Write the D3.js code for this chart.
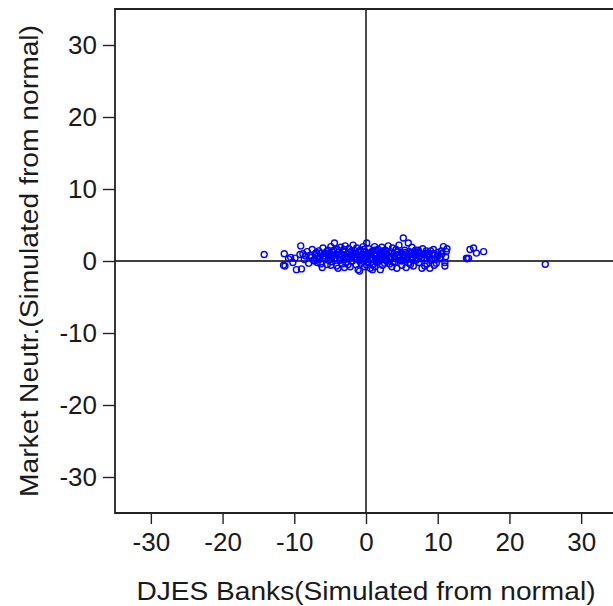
<!DOCTYPE html>
<html><head><meta charset="utf-8">
<script src="https://cdn.jsdelivr.net/npm/d3@7"></script>
<style>html,body{margin:0;padding:0;background:#fff;overflow:hidden}</style>
</head><body><svg id="c" width="613" height="606"></svg>
<script>
const xLabel = "DJES Banks(Simulated from normal)";
const yLabel = "Market Neutr.(Simulated from normal)";
const tickValues = [-30, -20, -10, 0, 10, 20, 30];
const xValues = [
-14.2,-11.4,-11.3,-9.9,-9.7,-9.0,-9.1,-9.2,-8.6,-8.2,-8.0,-7.8,-7.5,-7.3,-7.0,-6.8,-6.6,-6.4,-6.1,-6.0,
-5.8,-5.6,-5.4,-5.3,-5.1,-4.9,-4.8,-4.6,-4.4,-4.3,-4.1,-4.0,-3.9,-3.8,-3.6,-3.5,-3.3,-3.2,-3.0,-2.9,
-2.8,-2.6,-2.5,-2.4,-2.2,-2.1,-2.0,-1.9,-1.8,-1.6,-1.5,-1.4,-1.3,-1.1,-1.0,-0.9,-0.8,-0.7,-0.5,-0.4,
-0.3,-0.2,-0.1,0.1,0.2,0.3,0.4,0.6,0.7,0.8,0.9,1.0,1.2,1.3,1.4,1.5,1.7,1.8,2.0,2.1,
2.2,2.3,2.5,2.6,2.7,2.9,3.0,3.1,3.3,3.4,3.5,3.7,3.8,3.9,4.1,4.2,4.3,4.5,4.6,4.8,
4.9,5.0,5.2,5.3,5.4,5.6,5.7,5.9,6.0,6.1,6.3,6.4,6.6,6.7,6.9,7.0,7.2,7.4,7.5,7.8,
7.9,8.1,8.3,8.5,8.7,8.9,9.0,9.2,9.4,9.6,9.8,10.0,10.3,10.6,10.8,11.0,11.0,11.2,11.1,11.3,
14.0,14.1,14.3,14.5,15.0,15.4,16.4,25.0,
-7.6,-7.1,-6.9,-6.5,-6.2,-5.9,-5.5,-5.2,-5.0,-4.7,-4.5,-4.2,-3.9,-3.7,-3.4,-3.1,-2.7,-2.3,-2.0,-1.7,
-1.2,-1.0,-0.6,-0.3,0.0,0.3,0.5,0.8,1.1,1.3,1.6,1.9,2.2,2.4,2.8,3.2,3.6,4.0,4.4,4.7,
5.1,5.5,5.8,6.2,6.5,6.8,7.1,7.3,7.7,8.0,8.4,8.8,9.3,9.7,10.1,10.5,-8.4,-8.8,-10.5,-10.2,
-10.8,-6.3,-4.9,-2.5,0.1,1.2,2.6,3.6,5.6,6.2,8.2,9.5,-3.0,0.9,-0.9,-11.5,
-6.7,-5.7,-4.4,-3.5,-2.6,-1.5,-0.7,0.4,1.5,2.5,3.4,4.3,5.2,6.0,6.9,7.8,8.6,9.9,
-7.2,-6.0,-4.8,-3.2,-2.1,-0.9,0.6,1.8,2.9,4.0,5.0,6.4,7.5,8.9,10.4,-5.3,-1.4,2.0,4.6,7.0
];
const yValues = [
0.9,1.0,-0.7,0.4,-1.2,-1.1,2.1,0.9,0.2,1.3,-0.3,0.8,1.6,0.1,1.1,-0.2,1.4,0.6,-0.9,1.8,
0.3,1.0,-0.5,1.5,0.7,2.0,-0.1,1.2,2.5,0.4,-0.7,1.6,-1.0,0.9,0.1,1.9,-0.4,1.3,0.6,2.1,
-0.2,1.0,0.3,1.7,-0.8,0.8,1.4,0.0,2.2,0.5,1.1,-0.5,1.8,-1.2,0.7,0.2,1.5,-0.3,1.0,2.0,
0.4,-0.8,1.3,2.5,0.6,-0.1,1.7,-1.0,0.9,0.2,1.4,-0.5,2.0,0.7,1.1,-0.2,1.6,0.3,-1.2,0.9,
1.9,-0.6,1.2,0.5,1.5,0.0,0.8,2.1,-0.4,1.3,0.6,1.8,-0.1,1.0,0.3,1.6,-1.0,0.8,2.2,0.1,
1.2,-0.6,3.2,0.7,1.5,0.2,1.0,2.5,-0.3,1.3,0.6,1.9,-0.7,0.9,1.5,0.1,1.2,-0.2,0.7,-1.0,
1.7,0.4,1.1,-0.4,0.8,-1.0,1.4,0.3,1.6,0.9,-0.3,1.2,0.5,1.0,2.0,-0.2,-0.7,1.3,0.6,1.7,
0.4,0.3,0.4,1.6,1.8,1.1,1.3,-0.45,
0.5,0.9,1.2,0.2,1.1,0.7,1.3,0.1,1.1,0.6,1.5,0.9,1.2,0.5,0.8,1.6,0.4,1.2,0.6,0.9,
0.3,1.3,0.8,1.6,0.5,1.1,0.3,1.2,0.8,1.5,0.4,1.1,0.7,1.4,0.9,0.4,1.1,0.7,1.3,0.5,
0.9,1.2,0.6,1.0,0.4,1.2,0.8,1.5,0.3,0.9,1.4,0.6,1.0,0.2,0.8,1.4,0.7,1.0,0.5,-0.2,
0.3,-0.4,-0.6,-0.5,-0.6,-0.8,-0.3,-0.8,-0.9,-0.5,-0.7,-0.6,-0.9,-1.2,-1.4,-0.6,
0.7,1.1,0.3,1.0,0.6,1.4,0.5,0.9,0.2,1.0,0.5,1.2,0.4,0.8,1.1,0.5,1.0,0.6,
0.0,0.4,0.8,0.2,0.9,0.0,0.3,0.0,0.2,-0.2,0.0,0.2,1.0,0.1,0.3,0.9,0.4,0.6,0.4,0.4
];
const points = xValues.map((x, i) => ({x, y: yValues[i]}));

const svg = d3.select("#c");
const x = d3.scaleLinear().domain([-35, 35]).range([115, 617]);
const y = d3.scaleLinear().domain([-35, 35]).range([513, 9]);
const font = "Liberation Sans, Arial, sans-serif";

// zero lines
svg.append("line").attr("x1", x(-35)).attr("x2", x(35)).attr("y1", y(0)).attr("y2", y(0))
  .attr("stroke", "#000").attr("stroke-width", 1.4);
svg.append("line").attr("x1", x(0)).attr("x2", x(0)).attr("y1", y(35)).attr("y2", y(-35))
  .attr("stroke", "#000").attr("stroke-width", 1.4);

// points
svg.append("g").selectAll("circle").data(points).join("circle")
  .attr("cx", d => x(d.x)).attr("cy", d => y(d.y)).attr("r", 3)
  .attr("fill", "none").attr("stroke", "#0000ff").attr("stroke-width", 1.4);

// frame
svg.append("path").attr("d", `M${x(35)},${y(35)}H${x(-35)}V${y(-35)}H${x(35)}`)
  .attr("fill", "none").attr("stroke", "#222").attr("stroke-width", 1.8);

// axes
const xAxis = svg.append("g").attr("transform", `translate(0,${y(-35)})`)
  .call(d3.axisBottom(x).tickValues(tickValues).tickSize(11).tickPadding(9).tickFormat(d3.format("d")));
const yAxis = svg.append("g").attr("transform", `translate(${x(-35)},0)`)
  .call(d3.axisLeft(y).tickValues(tickValues).tickSize(12).tickPadding(6).tickFormat(d3.format("d")));
[xAxis, yAxis].forEach(g => {
  g.select(".domain").remove();
  g.selectAll(".tick line").attr("stroke", "#222").attr("stroke-width", 1.4);
  g.selectAll(".tick text").attr("font-family", font).attr("font-size", 26).attr("fill", "#1a1a1a")
    .text(d => d < 0 ? "-" + Math.abs(d) : d);
});

// titles
svg.append("text").attr("x", x(0)).attr("y", 600).attr("text-anchor", "middle")
  .attr("font-family", font).attr("font-size", 26).attr("fill", "#1a1a1a")
  .attr("textLength", 459).attr("lengthAdjust", "spacingAndGlyphs").text(xLabel);
svg.append("text").attr("transform", `translate(38,${y(0)}) rotate(-90)`).attr("text-anchor", "middle")
  .attr("font-family", font).attr("font-size", 26).attr("fill", "#1a1a1a")
  .attr("textLength", 472).attr("lengthAdjust", "spacingAndGlyphs").text(yLabel);
</script></body></html>
